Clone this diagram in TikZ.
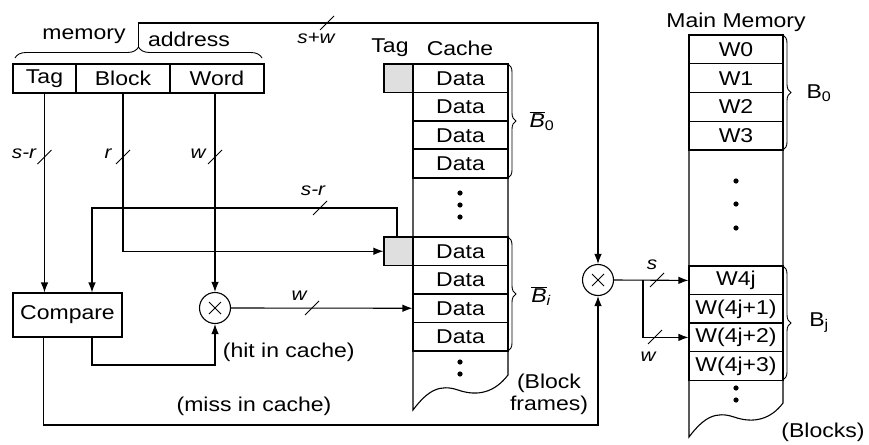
\documentclass[tikz,border=0pt]{standalone}
\usepackage{fontspec}
\setmainfont[FakeStretch=1.15]{Liberation Sans}
\usetikzlibrary{arrows.meta, decorations.pathreplacing, positioning, calc}
\newcommand{\busmark}[1]{\draw[line width=0.9pt] (#1) ++(-7,7) -- ++(14,-14);}

\begin{document}
\begin{tikzpicture}[x=1pt, y=-1pt, line width=1.1pt, font=\fontsize{20}{22}\selectfont,
    >={Latex[length=10pt,width=7.5pt]},
    field/.style={draw, minimum height=29pt, inner sep=0pt},
    crow/.style={draw, minimum width=95pt, minimum height=28.5pt, inner sep=0pt},
    mrow/.style={draw, minimum width=94pt, minimum height=28.75pt, inner sep=0pt},
    tagbox/.style={draw, fill=gray!25, minimum width=29pt, minimum height=28.5pt, inner sep=0pt},
    mulnode/.style={draw, circle, minimum size=31pt, inner sep=0pt,
      path picture={\draw[line width=0.9pt] ([shift={(-6pt,-6pt)}]path picture bounding box.center) -- ([shift={(6pt,6pt)}]path picture bounding box.center);
        \draw[line width=0.9pt] ([shift={(-6pt,6pt)}]path picture bounding box.center) -- ([shift={(6pt,-6pt)}]path picture bounding box.center);}},
    lbl/.style={font=\fontsize{18}{20}\selectfont\itshape},
    brc/.style={decorate, decoration={brace, amplitude=8pt}, line width=0.9pt}]
    \useasboundingbox (0,0) rectangle (869,444);

    % address fields
    \node[field, minimum width=63pt] (tag) at (44.5,78.5) {Tag};
    \node[field, minimum width=94pt] (block) at (123,78.5) {Block};
    \node[field, minimum width=94pt] (word) at (217,78.5) {Word};
    \draw[decorate, decoration={brace, amplitude=11pt}, line width=0.9pt] (15,58) -- (262,58);
    \coordinate (addr) at (138.5,47);
    \node at (84,36) {memory};
    \node at (189,39) {address};

    % cache
    \node at (390,48) {Tag};
    \node at (460,48) {Cache};
    \foreach \i in {0,...,3} {
        \node[crow] (d0\i) at (460.5,{78.25+28.5*\i}) {Data};
        \node[crow] (dI\i) at (460.5,{251.25+28.5*\i}) {Data};
    }
    \draw[line width=1.7pt] (d03.north west) rectangle (d03.south east);
    \node[tagbox] (tag0) at (398.5,78.25) {};
    \node[tagbox] (tagI) at (398.5,251.25) {};
    \draw (413,64) -- (413,410) .. controls (428,390) and (440,384) .. (458,390)
        .. controls (478,397) and (495,392) .. (508,375) -- (508,64);
    \foreach \y in {193,205,217} \fill (460,\y) circle (2.6);
    \foreach \y in {362,374} \fill (460,\y) circle (2.6);
    \draw[brc] (508,64) -- (508,178);
    \draw[brc] (508,237) -- (508,351);
    \node at (542,121) {$\overline{\mbox{\itshape B}}_{\mbox{\fontsize{14}{14}\selectfont 0}}$};
    \node at (541,296) {$\overline{\mbox{\itshape B}}_{\mbox{\fontsize{14}{14}\selectfont\itshape i}}$};
    \node[align=center] at (549,394) {(Block\\frames)};

    % main memory
    \node at (736,22) {Main Memory};
    \foreach \w [count=\i from 0] in {W0,W1,W2,W3}
        \node[mrow] (m\i) at (736,{49.4+28.75*\i}) {\w};
    \foreach \w [count=\i from 0] in {W4j,{W(4j+1)},{W(4j+2)},{W(4j+3)}}
        \node[mrow] (mj\i) at (736,{280.4+28.5*\i}) {\w};
    \draw (689,35) -- (689,437) .. controls (704,417) and (716,411) .. (734,417)
        .. controls (754,424) and (771,419) .. (783,403) -- (783,35);
    \foreach \y in {181,204,228} \fill (736,\y) circle (2.6);
    \foreach \y in {388,400} \fill (736,\y) circle (2.6);
    \draw[brc] (783,35) -- (783,150);
    \draw[brc] (783,266) -- (783,380);
    \node at (819,93) {B\textsubscript{0}};
    \node at (819,323) {B\textsubscript{j}};
    \node at (823,432) {(Blocks)};

    % compare and selectors
    \node[draw, minimum width=109pt, minimum height=44pt, inner sep=0pt] (cmp) at (67.5,315) {Compare};
    \node[mulnode] (mulL) at (215,308) {};
    \node[mulnode] (mulR) at (598,280) {};

    % connectors
    \coordinate (top) at (138.5,23);
    \draw[->] (addr) -- (top) -| (mulR.north);
    \busmark{327,23} \node[lbl] at (316,38) {s+w};

    \draw[->] (tag.south) -- (tag.south |- cmp.north);
    \busmark{44.5,157} \node[lbl] at (24,154) {s-r};
    \draw[->] (block.south) |- (tagI.west);
    \busmark{123,157} \node[lbl] at (108,154) {r};
    \draw[->] (word.south -| mulL.north) -- (mulL.north);
    \busmark{215,157} \node[lbl] at (198,154) {w};

    \coordinate (fb) at (92,208);
    \draw[->] (tagI.north -| 397,0) -- (397,208) -- (fb) -- (fb |- cmp.north);
    \busmark{320,208} \node[lbl] at (313,191) {s-r};

    \coordinate (hit) at (92,365);
    \draw[->] (cmp.south -| hit) -- (hit) -| (mulL.south);
    \node[anchor=west] at (219,352) {(hit in cache)};
    \draw[->] (mulL.east) -- (dI2.west);
    \busmark{312,308} \node[lbl] at (299,296) {w};

    \coordinate (miss) at (43.5,425);
    \draw[->] (cmp.south -| miss) -- (miss) -| (mulR.south);
    \node at (254,406) {(miss in cache)};

    \coordinate (br) at (643,280);
    \draw[->] (mulR.east) -- (mj0.west);
    \busmark{657,280} \node[lbl] at (652,265) {s};
    \draw[->] (br) |- (mj2.west);
    \busmark{655,337} \node[lbl] at (648,357) {w};
\end{tikzpicture}
\end{document}
